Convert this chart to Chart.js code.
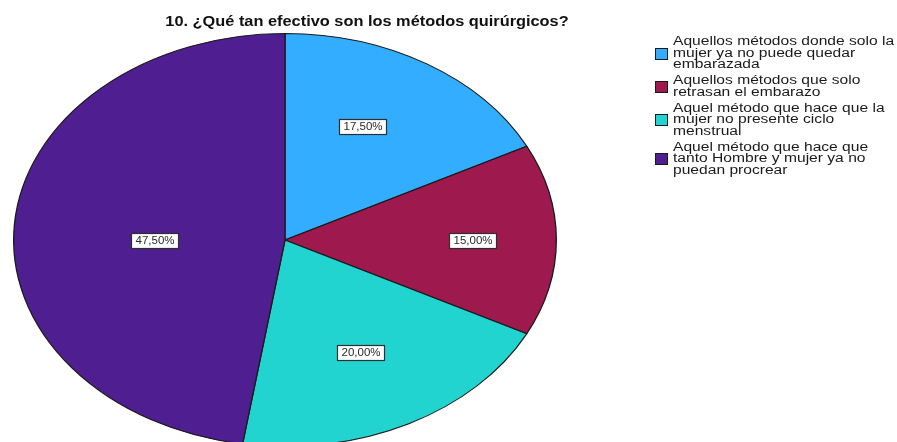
<!DOCTYPE html>
<html>
<head>
<meta charset="utf-8">
<script src="https://cdn.jsdelivr.net/npm/chart.js@4.4.1/dist/chart.umd.min.js"></script>
<style>
  html, body { margin: 0; padding: 0; background: #fff; overflow: hidden; }
  #wrap { width: 897px; height: 442px; overflow: hidden; position: relative; }
  canvas { display: block; }
</style>
</head>
<body>
<div id="wrap"><canvas id="c" width="897" height="450"></canvas></div>
<script>
// ---- data ----
const chartTitle = '10. ¿Qué tan efectivo son los métodos quirúrgicos?';
const categories = [
  ['Aquellos métodos donde solo la', 'mujer ya no puede quedar', 'embarazada'],
  ['Aquellos métodos que solo', 'retrasan el embarazo'],
  ['Aquel método que hace que la', 'mujer no presente ciclo', 'menstrual'],
  ['Aquel método que hace que', 'tanto Hombre y mujer ya no', 'puedan procrear']
];
const percentages = [17.5, 15.0, 20.0, 47.5];
const sliceColors = ['#33adff', '#9e1a4e', '#22d4d0', '#4f1f91'];

// ---- look ----
const FONT = '"Liberation Sans", Arial, sans-serif';
const STRETCH_X = 272 / 207;   // the pie is drawn as a wide oval

function fillStretched(ctx, text, x, y, sx, align) {
  ctx.save();
  ctx.translate(x, y);
  ctx.scale(sx, 1);
  ctx.textAlign = align;
  ctx.fillText(text, 0, 0);
  ctx.restore();
}

// widen the pie horizontally around its centre
const ovalPie = {
  id: 'ovalPie',
  beforeDatasetsDraw(chart) {
    const arc = chart.getDatasetMeta(0).data[0];
    const ctx = chart.ctx;
    ctx.save();
    ctx.translate(arc.x, arc.y);
    ctx.scale(STRETCH_X, 1);
    ctx.translate(-arc.x, -arc.y);
  },
  afterDatasetsDraw(chart) {
    chart.ctx.restore();
  }
};

// boxed percentage labels inside each slice
const valueLabels = {
  id: 'valueLabels',
  afterDraw(chart, args, opts) {
    const ctx = chart.ctx;
    const meta = chart.getDatasetMeta(0);
    const values = chart.data.datasets[0].data;
    meta.data.forEach((arc, i) => {
      const p = arc.getProps(['x', 'y', 'startAngle', 'endAngle', 'outerRadius'], true);
      const mid = (p.startAngle + p.endAngle) / 2 + opts.nudgeDeg[i] * Math.PI / 180;
      const r = p.outerRadius * opts.radial[i];
      const cx = p.x + Math.cos(mid) * r * STRETCH_X;
      const cy = p.y + Math.sin(mid) * r;
      const text = values[i].toFixed(2).replace('.', ',') + '%';
      ctx.save();
      ctx.font = '10px ' + FONT;
      const w = Math.round(ctx.measureText(text).width * opts.textScale + 8);
      const h = 15;
      const bx = Math.round(cx - w / 2) + 0.5;
      const by = Math.round(cy - h / 2) + 0.5;
      ctx.fillStyle = '#ffffff';
      ctx.fillRect(bx, by, w, h);
      ctx.strokeStyle = '#2e2e2e';
      ctx.lineWidth = 1.2;
      ctx.strokeRect(bx, by, w, h);
      ctx.fillStyle = '#2a2a2a';
      ctx.textBaseline = 'middle';
      fillStretched(ctx, text, bx + w / 2, by + h / 2 + 0.5, opts.textScale, 'center');
      ctx.restore();
    });
  }
};

// title and legend
const chartText = {
  id: 'chartText',
  afterDraw(chart, args, opts) {
    const ctx = chart.ctx;
    const ds = chart.data.datasets[0];
    ctx.save();
    ctx.fillStyle = '#111111';
    ctx.textBaseline = 'middle';
    ctx.font = 'bold 15px ' + FONT;
    fillStretched(ctx, chartTitle, opts.titleX, opts.titleY, opts.titleScale, 'center');

    ctx.font = '12px ' + FONT;
    let y = opts.legendTop;
    chart.data.labels.forEach((lines, i) => {
      const mid = y + (lines.length - 1) * opts.lineHeight / 2;
      ctx.fillStyle = ds.backgroundColor[i];
      ctx.fillRect(opts.boxX, Math.round(mid - 6), 13, 12);
      ctx.strokeStyle = '#1a1a1a';
      ctx.lineWidth = 1;
      ctx.strokeRect(opts.boxX + 0.5, Math.round(mid - 6) + 0.5, 12, 11);
      ctx.fillStyle = '#1a1a1a';
      lines.forEach((ln, k) => {
        fillStretched(ctx, ln, opts.textX, y + k * opts.lineHeight, opts.legendScale, 'left');
      });
      y += lines.length * opts.lineHeight + opts.entryGap;
    });
    ctx.restore();
  }
};

new Chart(document.getElementById('c'), {
  type: 'pie',
  data: {
    labels: categories,
    datasets: [{
      data: percentages,
      backgroundColor: sliceColors,
      borderColor: '#1a1a1a',
      borderWidth: 1,
      clip: false
    }]
  },
  options: {
    responsive: false,
    animation: false,
    devicePixelRatio: 1,
    events: [],
    layout: { padding: { left: 78, right: 405, top: 33, bottom: 3 } },
    plugins: {
      legend: { display: false },
      title: { display: false },
      tooltip: { enabled: false },
      valueLabels: {
        radial: [0.62, 0.69, 0.61, 0.48],
        nudgeDeg: [-4, 0, 0, -4.5],
        textScale: 1.15
      },
      chartText: {
        titleX: 367, titleY: 22, titleScale: 1.09,
        boxX: 655, textX: 673, legendTop: 42, lineHeight: 11.5, entryGap: 4.5,
        legendScale: 1.3
      }
    }
  },
  plugins: [ovalPie, valueLabels, chartText]
});
</script>
</body>
</html>
